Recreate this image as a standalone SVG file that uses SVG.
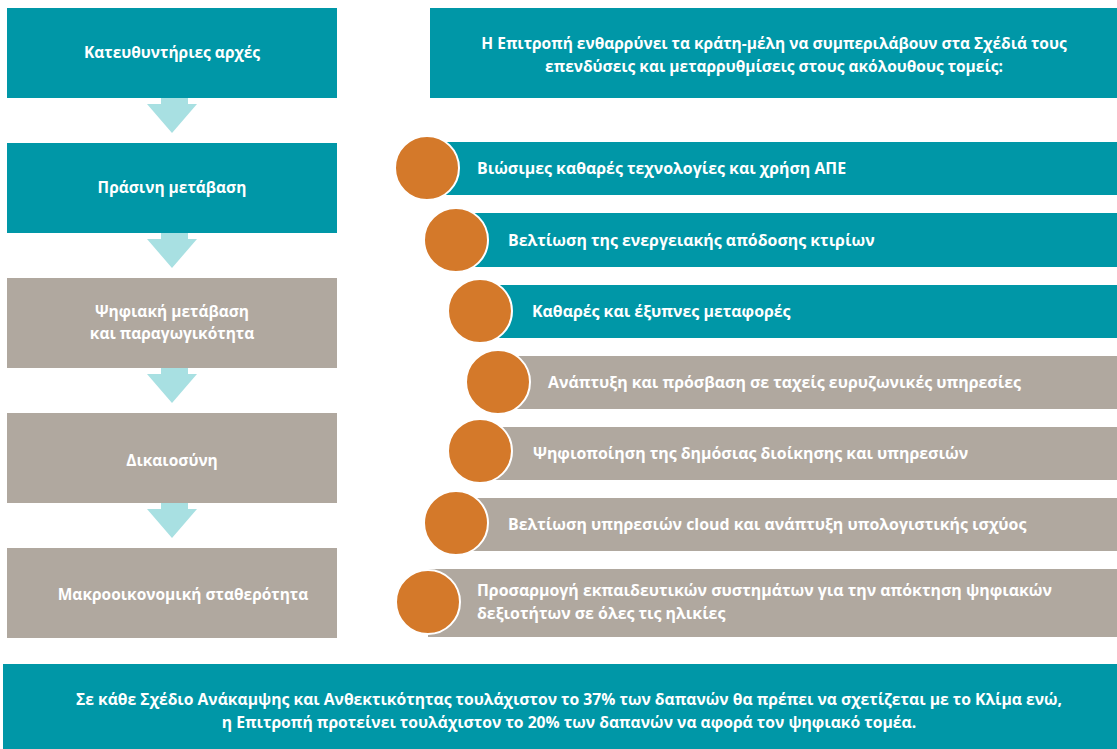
<svg xmlns="http://www.w3.org/2000/svg" width="1117" height="749" viewBox="0 0 1117 749">
<style>
.teal{fill:#0097A7}
.gray{fill:#B0A89F}
.arrow{fill:#A8E0E2}
.dot{fill:#D4792A;stroke:#FFFFFF;stroke-width:2}
text{font-family:"Open Sans","Noto Sans","DejaVu Sans",sans-serif;font-weight:bold;fill:#FFFFFF;font-size:15.5px}
.c{text-anchor:middle}
.i{font-size:15.9px}
.h{font-size:15.5px}
.s{font-size:15.7px}
</style>
<rect width="1117" height="749" fill="#FFFFFF"/>
<g id="connectors">
<path class="arrow" d="M161,98H188V104H197L172,133L147,104H161Z"/>
<path class="arrow" d="M161,233H188V239H197L172,268L147,239H161Z"/>
<path class="arrow" d="M161,368H188V374H197L172,403L147,374H161Z"/>
<path class="arrow" d="M161,503H188V509H197L172,538L147,509H161Z"/>
</g>
<g id="principles">
<rect class="teal" x="7" y="8" width="330" height="90"/>
<text class="c" x="172" y="58">Κατευθυντήριες αρχές</text>
</g>
<g id="green">
<rect class="teal" x="7" y="143" width="330" height="90"/>
<text class="c" x="172" y="193">Πράσινη μετάβαση</text>
</g>
<g id="digital">
<rect class="gray" x="7" y="278" width="330" height="90"/>
<text class="c" x="172" y="317">Ψηφιακή μετάβαση</text>
<text class="c" x="172" y="339">και παραγωγικότητα</text>
</g>
<g id="justice">
<rect class="gray" x="7" y="413" width="330" height="90"/>
<text class="c" x="172" y="466">Δικαιοσύνη</text>
</g>
<g id="macro">
<rect class="gray" x="7" y="548" width="330" height="90"/>
<text class="c" x="183" y="600">Μακροοικονομική σταθερότητα</text>
</g>
<g id="header">
<rect class="teal" x="430" y="8" width="687" height="90"/>
<text class="c h" x="774" y="49">Η Επιτροπή ενθαρρύνει τα κράτη-μέλη να συμπεριλάβουν στα Σχέδιά τους</text>
<text class="c h" x="774" y="72">επενδύσεις και μεταρρυθμίσεις στους ακόλουθους τομείς:</text>
</g>
<g id="item1">
<rect class="teal" x="427" y="142" width="690" height="53"/>
<circle class="dot" cx="427" cy="168" r="32"/>
<text class="i" x="477" y="174">Βιώσιμες καθαρές τεχνολογίες και χρήση ΑΠΕ</text>
</g>
<g id="item2">
<rect class="teal" x="456" y="213" width="661" height="54"/>
<circle class="dot" cx="456" cy="240" r="32"/>
<text class="i" x="508" y="246">Βελτίωση της ενεργειακής απόδοσης κτιρίων</text>
</g>
<g id="item3">
<rect class="teal" x="480" y="285" width="637" height="53"/>
<circle class="dot" cx="480" cy="311" r="32"/>
<text class="i" x="532" y="317">Καθαρές και έξυπνες μεταφορές</text>
</g>
<g id="item4">
<rect class="gray" x="498" y="356" width="619" height="53"/>
<circle class="dot" cx="498" cy="382" r="32"/>
<text class="i" x="548" y="388">Ανάπτυξη και πρόσβαση σε ταχείς ευρυζωνικές υπηρεσίες</text>
</g>
<g id="item5">
<rect class="gray" x="480" y="427" width="637" height="53"/>
<circle class="dot" cx="480" cy="451" r="32"/>
<text class="i" x="533" y="459">Ψηφιοποίηση της δημόσιας διοίκησης και υπηρεσιών</text>
</g>
<g id="item6">
<rect class="gray" x="456" y="498" width="661" height="53"/>
<circle class="dot" cx="456" cy="523" r="32"/>
<text class="i" x="508" y="530">Βελτίωση υπηρεσιών cloud και ανάπτυξη υπολογιστικής ισχύος</text>
</g>
<g id="item7">
<rect class="gray" x="428" y="569" width="689" height="68"/>
<circle class="dot" cx="428" cy="602" r="32"/>
<text class="i" x="477" y="596">Προσαρμογή εκπαιδευτικών συστημάτων για την απόκτηση ψηφιακών</text>
<text class="i" x="477" y="619">δεξιοτήτων σε όλες τις ηλικίες</text>
</g>
<g id="footer">
<rect class="teal" x="3" y="664" width="1114" height="85"/>
<text class="c s" x="569" y="705">Σε κάθε Σχέδιο Ανάκαμψης και Ανθεκτικότητας τουλάχιστον το 37% των δαπανών θα πρέπει να σχετίζεται με το Κλίμα ενώ,</text>
<text class="c s" x="569" y="728">η Επιτροπή προτείνει τουλάχιστον το 20% των δαπανών να αφορά τον ψηφιακό τομέα.</text>
</g>
</svg>
